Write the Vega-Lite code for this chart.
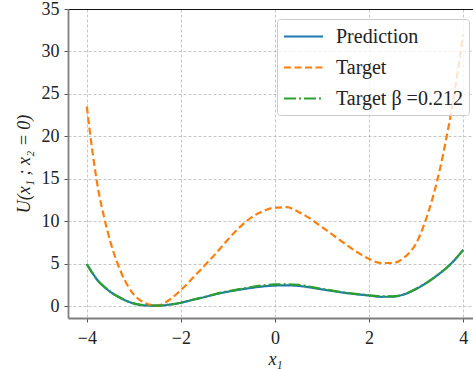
{
  "$schema": "https://vega.github.io/schema/vega-lite/v6.json",
  "autosize": "none",
  "width": 414,
  "height": 309,
  "padding": {"left": 68, "top": 9, "right": 0, "bottom": 51},
  "background": "white",
  "config": {
    "view": {"stroke": null},
    "font": "Liberation Serif"
  },
  "datasets": {
    "curves": [
      {"x": -4.0, "Prediction": 4.95, "Target": 23.5, "Beta": 4.95},
      {"x": -3.875, "Prediction": 3.85, "Target": 18.0, "Beta": 3.85},
      {"x": -3.75, "Prediction": 2.9, "Target": 13.5, "Beta": 2.9},
      {"x": -3.625, "Prediction": 2.25, "Target": 10.3, "Beta": 2.25},
      {"x": -3.5, "Prediction": 1.68, "Target": 7.6, "Beta": 1.68},
      {"x": -3.25, "Prediction": 0.86, "Target": 3.7, "Beta": 0.88},
      {"x": -3.0, "Prediction": 0.3, "Target": 1.35, "Beta": 0.32},
      {"x": -2.75, "Prediction": 0.08, "Target": 0.35, "Beta": 0.1},
      {"x": -2.5, "Prediction": 0.05, "Target": 0.05, "Beta": 0.06},
      {"x": -2.25, "Prediction": 0.17, "Target": 0.72, "Beta": 0.18},
      {"x": -2.0, "Prediction": 0.4, "Target": 1.9, "Beta": 0.4},
      {"x": -1.75, "Prediction": 0.74, "Target": 3.3, "Beta": 0.75},
      {"x": -1.5, "Prediction": 1.06, "Target": 4.75, "Beta": 1.08},
      {"x": -1.25, "Prediction": 1.42, "Target": 6.25, "Beta": 1.45},
      {"x": -1.0, "Prediction": 1.7, "Target": 7.85, "Beta": 1.75},
      {"x": -0.75, "Prediction": 1.94, "Target": 9.3, "Beta": 2.0},
      {"x": -0.5, "Prediction": 2.15, "Target": 10.45, "Beta": 2.25},
      {"x": -0.25, "Prediction": 2.32, "Target": 11.2, "Beta": 2.45},
      {"x": 0.0, "Prediction": 2.42, "Target": 11.6, "Beta": 2.55},
      {"x": 0.25, "Prediction": 2.45, "Target": 11.65, "Beta": 2.58},
      {"x": 0.5, "Prediction": 2.38, "Target": 11.1, "Beta": 2.5},
      {"x": 0.75, "Prediction": 2.2, "Target": 10.3, "Beta": 2.28},
      {"x": 1.0, "Prediction": 1.97, "Target": 9.3, "Beta": 2.02},
      {"x": 1.25, "Prediction": 1.76, "Target": 8.3, "Beta": 1.8},
      {"x": 1.5, "Prediction": 1.55, "Target": 7.3, "Beta": 1.58},
      {"x": 1.75, "Prediction": 1.39, "Target": 6.35, "Beta": 1.42},
      {"x": 2.0, "Prediction": 1.25, "Target": 5.55, "Beta": 1.28},
      {"x": 2.25, "Prediction": 1.1, "Target": 5.08, "Beta": 1.15},
      {"x": 2.5, "Prediction": 1.12, "Target": 5.08, "Beta": 1.15},
      {"x": 2.75, "Prediction": 1.4, "Target": 5.75, "Beta": 1.4},
      {"x": 3.0, "Prediction": 2.02, "Target": 7.4, "Beta": 2.05},
      {"x": 3.25, "Prediction": 2.85, "Target": 10.9, "Beta": 2.85},
      {"x": 3.5, "Prediction": 3.85, "Target": 16.0, "Beta": 3.85},
      {"x": 3.625, "Prediction": 4.4, "Target": 19.3, "Beta": 4.4},
      {"x": 3.75, "Prediction": 5.05, "Target": 23.0, "Beta": 5.05},
      {"x": 3.875, "Prediction": 5.8, "Target": 27.3, "Beta": 5.8},
      {"x": 4.0, "Prediction": 6.63, "Target": 32.0, "Beta": 6.63}
    ]
  },
  "data": {"name": "curves"},
  "transform": [
    {"fold": ["Prediction", "Target", "Beta"], "as": ["key", "y"]},
    {"lookup": "key", "from": {"data": {"values": [
      {"key": "Prediction", "series": "Prediction"},
      {"key": "Target", "series": "Target"},
      {"key": "Beta", "series": "Target β =0.212"}
    ]}, "key": "key", "fields": ["series"]}}
  ],
  "mark": {"type": "line", "strokeWidth": 2.2, "interpolate": "monotone", "clip": true},
  "encoding": {
    "x": {
      "field": "x", "type": "quantitative",
      "scale": {"domain": [-4.4, 4.4], "nice": false, "zero": false},
      "axis": {
        "values": [-4, -2, 0, 2, 4],
        "title": "x₁",
        "titleFont": "Liberation Serif", "titleFontStyle": "italic", "titleFontWeight": "normal",
        "titleFontSize": 18, "titleColor": "#222", "titlePadding": 3,
        "labelFont": "Liberation Serif", "labelFontSize": 18, "labelColor": "#222", "labelPadding": 7,
        "domainColor": "#7f7f7f", "domainWidth": 1.8,
        "tickColor": "#555", "tickSize": 4, "tickWidth": 1,
        "gridColor": "#b8b8b8", "gridDash": [3, 2], "gridWidth": 0.8
      }
    },
    "y": {
      "field": "y", "type": "quantitative",
      "scale": {"domain": [-1.4, 35], "nice": false, "zero": false},
      "axis": {
        "values": [0, 5, 10, 15, 20, 25, 30, 35],
        "title": "U(x₁ ; x₂ = 0)",
        "titleFont": "Liberation Serif", "titleFontStyle": "italic", "titleFontWeight": "normal",
        "titleFontSize": 18, "titleColor": "#222", "titlePadding": 8,
        "labelFont": "Liberation Serif", "labelFontSize": 18, "labelColor": "#222", "labelPadding": 5,
        "domainColor": "#7f7f7f", "domainWidth": 1.8,
        "tickColor": "#555", "tickSize": 4, "tickWidth": 1,
        "gridColor": {"condition": {"test": "datum.value === 35", "value": "#111111"}, "value": "#b8b8b8"},
        "gridDash": {"condition": {"test": "datum.value === 35", "value": []}, "value": [3, 2]},
        "gridWidth": {"condition": {"test": "datum.value === 35", "value": 1.2}, "value": 0.8}
      }
    },
    "color": {
      "field": "series", "type": "nominal",
      "scale": {"domain": ["Prediction", "Target", "Target β =0.212"], "range": ["#1f77b4", "#ff7f0e", "#2ca02c"]},
      "legend": {
        "title": null, "orient": "none", "legendX": 209, "legendY": 10,
        "fillColor": "rgba(255,255,255,0.8)", "strokeColor": "#cccccc", "cornerRadius": 3, "padding": 6,
        "symbolType": "M-1.95,0H1.95", "symbolSize": 400, "symbolStrokeWidth": 2.2, "symbolOffset": 9,
        "labelFont": "Liberation Serif", "labelFontSize": 20, "labelColor": "#222", "labelOffset": 21,
        "rowPadding": 9
      }
    },
    "strokeDash": {
      "field": "series", "type": "nominal",
      "scale": {"domain": ["Prediction", "Target", "Target β =0.212"], "range": [[1, 0], [7, 3.5], [12, 3, 2, 3]]},
      "legend": null
    }
  }
}
